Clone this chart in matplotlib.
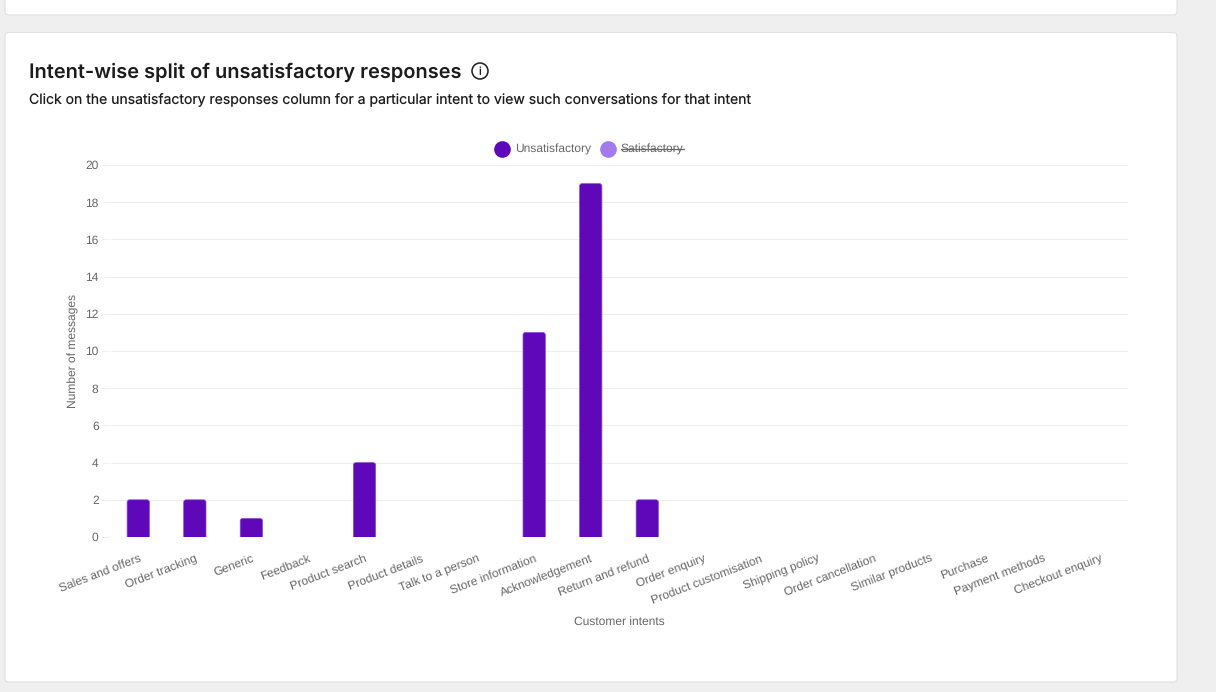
import matplotlib
matplotlib.use("Agg")
import matplotlib.pyplot as plt
from matplotlib.patches import FancyBboxPatch, Circle
from matplotlib.lines import Line2D

intents = ["Sales and offers", "Order tracking", "Generic", "Feedback", "Product search",
           "Product details", "Talk to a person", "Store information", "Acknowledgement",
           "Return and refund", "Order enquiry", "Product customisation", "Shipping policy",
           "Order cancellation", "Similar products", "Purchase", "Payment methods", "Checkout enquiry"]
unsatisfactory = [2, 2, 1, 0, 4, 0, 0, 11, 19, 2, 0, 0, 0, 0, 0, 0, 0, 0]
y_ticks = list(range(0, 21, 2))
series_names = ["Unsatisfactory", "Satisfactory"]
title = "Intent-wise split of unsatisfactory responses"
subtitle = "Click on the unsatisfactory responses column for a particular intent to view such conversations for that intent"

plt.rcParams["text.hinting"] = "no_hinting"
plt.rcParams["text.hinting_factor"] = 1

W, H = 1216, 692
PURPLE = "#5f08b9"
LIGHT = "#a27bee"
GREY = "#666666"
GRID = "#eeeeee"
CHART_FONT = ["Liberation Sans", "DejaVu Sans"]
UI_FONT = ["Inter", "DejaVu Sans"]

fig = plt.figure(figsize=(W / 100, H / 100), dpi=100, facecolor="#efefef")

# page layer in pixel coordinates
bg = fig.add_axes([0, 0, 1, 1], zorder=0)
bg.set_xlim(0, W)
bg.set_ylim(H, 0)
bg.axis("off")
for x0, y0, x1, y1 in [(5, -20, 1177, 15), (5, 32.5, 1177, 682)]:
    bg.add_patch(FancyBboxPatch((x0, y0), x1 - x0, y1 - y0,
                                boxstyle="round,pad=0,rounding_size=4",
                                fc="white", ec="#e0e0e0", lw=0.8))

bg.text(29, 72.3, title, fontsize=14.4, fontweight="semibold", family=UI_FONT,
        color="#1c1c1c", va="center", ha="left")
bg.text(29, 100, subtitle, fontsize=10.08, family=UI_FONT, color="#1c1c1c", va="center", ha="left")
bg.add_patch(Circle((480, 71), 8, fc="white", ec="#1c1c1c", lw=1.1))
bg.text(480, 71.5, "i", fontsize=8, family=UI_FONT, color="#1c1c1c", va="center", ha="center")

# legend
bg.add_line(Line2D([502], [149], marker="o", ms=12, color=PURPLE, mec="none", ls="none"))
bg.text(515, 149, series_names[0], fontsize=8.8, family=CHART_FONT, color=GREY, va="center", ha="left")
bg.add_line(Line2D([608], [149], marker="o", ms=12, color=LIGHT, mec="none", ls="none"))
bg.text(620.5, 149, series_names[1], fontsize=8.8, family=CHART_FONT, color=GREY, va="center", ha="left")
bg.add_line(Line2D([620.5, 684], [149, 149], color=GREY, lw=0.9))

# chart axes: 110..1128 px across, 165..537 px down
AX_W, AX_H = 1018, 372
ax = fig.add_axes([110 / W, 1 - 537 / H, AX_W / W, AX_H / H], zorder=1)
ax.patch.set_alpha(0)
xs = list(range(len(intents)))
ax.set_xlim(-0.5, len(intents) - 0.5)
ax.set_ylim(0, 20)

# bars: rounded tops, lower end hidden below the axis by the axes clip
bar_w = 0.395
px_x = AX_W / len(intents)
px_y = AX_H / 20
for x, v in zip(xs, unsatisfactory):
    if v > 0:
        ax.add_patch(FancyBboxPatch((x - bar_w / 2, -1), bar_w, v + 1,
                                    boxstyle=f"round,pad=0,rounding_size={2.5 / px_x}",
                                    mutation_aspect=px_x / px_y,
                                    fc=PURPLE, ec="#8a4fd0", lw=0.5, zorder=3))

ax.set_yticks(y_ticks)
ax.set_xticks(xs)
ax.set_xticklabels(intents, rotation=21, ha="right", rotation_mode="anchor",
                   fontsize=8.8, family=CHART_FONT, color=GREY)
for t in ax.get_yticklabels():
    t.set_fontsize(8.8)
    t.set_family(CHART_FONT)
    t.set_color(GREY)
ax.tick_params(axis="x", length=0, pad=11.5)
ax.tick_params(axis="y", length=6, width=0.8, color=GRID, pad=2.2)
ax.grid(axis="y", color=GRID, lw=0.8, zorder=0)
ax.set_axisbelow(True)
for s in ax.spines.values():
    s.set_visible(False)

# small gap between the tick marks and the grid lines
ax.add_line(Line2D([109.5, 109.5], [160, 542], color="white", lw=1.0,
                   transform=bg.transData, clip_on=False, zorder=5))

bg.text(73, 351, "Number of messages", fontsize=8.64, family=CHART_FONT, color=GREY,
        rotation=90, va="center", ha="center")
bg.text(619, 621.5, "Customer intents", fontsize=8.8, family=CHART_FONT, color=GREY,
        va="center", ha="center")

fig.savefig("out.png", dpi=100, facecolor=fig.get_facecolor())
